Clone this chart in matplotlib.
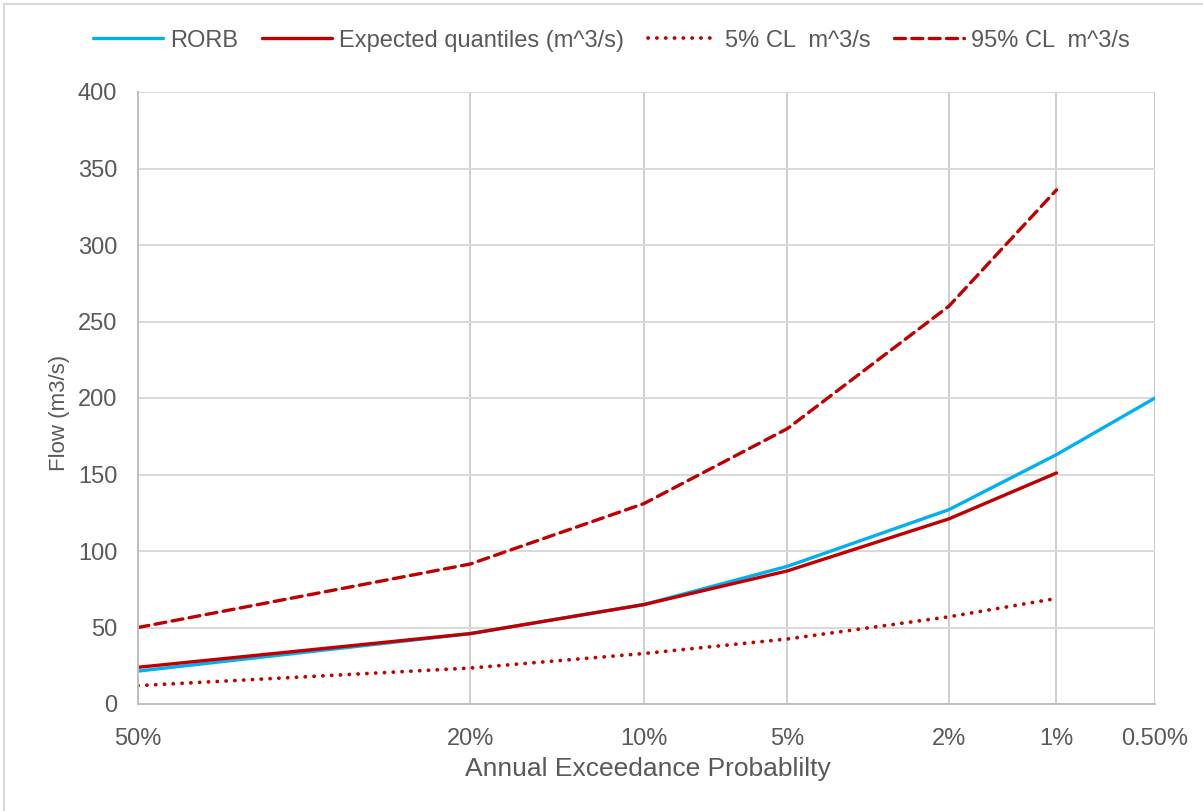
import matplotlib
matplotlib.use("Agg")
import matplotlib.pyplot as plt
from matplotlib.lines import Line2D
from statistics import NormalDist

plt.rcParams['font.family'] = ['Liberation Sans', 'DejaVu Sans']

aep_labels = ["50%", "20%", "10%", "5%", "2%", "1%", "0.50%"]
aep = [0.50, 0.20, 0.10, 0.05, 0.02, 0.01, 0.005]

rorb = [21.5, 46, 65, 90, 127, 163, 200]
expected = [24, 46, 65, 87, 121, 151]
cl5 = [12, 23.5, 33, 42.5, 57, 69]
cl95 = [50, 91.5, 131, 180, 260, 336]

nd = NormalDist()
x = [nd.inv_cdf(1 - p) for p in aep]

text_col = '#595959'
W, H = 1203, 811
fig = plt.figure(figsize=(W / 100, H / 100), dpi=100)

# chart-area border (top and left visible)
fig.add_artist(Line2D([4 / W, 1], [1 - 4 / H, 1 - 4 / H], color='#D9D9D9', lw=1.5))
fig.add_artist(Line2D([4 / W, 4 / W], [0, 1 - 4 / H], color='#D9D9D9', lw=1.5))

ax = fig.add_axes([138 / W, 1 - 704 / H, 1017 / W, 612 / H])

lw = 2.4
ax.plot(x, rorb, color='#00B0F0', lw=lw, label='RORB', solid_capstyle='round')
ax.plot(x[:6], expected, color='#C00000', lw=lw, label='Expected quantiles (m^3/s)', solid_capstyle='round')
ax.plot(x[:6], cl5, color='#C00000', lw=2.7, ls=(0, (0.05, 2.3)), dash_capstyle='round', label='5% CL  m^3/s')
ax.plot(x[:6], cl95, color='#C00000', lw=lw, ls=(0, (3.3, 1.9)), dash_capstyle='round', label='95% CL  m^3/s')

ax.set_xlim(x[0], x[-1])
ax.set_ylim(0, 400)
ax.set_yticks(range(0, 401, 50))
ax.set_xticks(x)
ax.set_xticklabels(aep_labels)
ax.tick_params(axis='both', length=0, labelsize=17, colors=text_col)
ax.tick_params(axis='x', pad=17)
ax.tick_params(axis='y', pad=15)

ax.grid(True, axis='y', color='#D9D9D9', lw=1.4)
ax.grid(True, axis='x', color='#C6C6C6', lw=1.2)
ax.axvline(x[-1], color='#C6C6C6', lw=1.2, zorder=0.5)
ax.set_axisbelow(True)
for s in ['top', 'right']:
    ax.spines[s].set_visible(False)
for s in ['left', 'bottom']:
    ax.spines[s].set_color('#BFBFBF')
    ax.spines[s].set_linewidth(1.4)

ax.set_xlabel('Annual Exceedance Probablilty', fontsize=19, color=text_col)
ax.xaxis.set_label_coords(0.5015, (704 - 769) / 612)
ax.xaxis.label.set_va('center')
ax.set_ylabel('Flow (m3/s)', fontsize=16, color=text_col)
ax.yaxis.set_label_coords((60 - 138) / 1017, 0.475)
ax.yaxis.label.set_va('center')

leg = fig.legend(loc='center', bbox_to_anchor=(611.5 / W, 1 - 40.7 / H), ncol=4, frameon=False,
                 fontsize=17, handlelength=2.97, handletextpad=0.3, columnspacing=1.0)
for t in leg.get_texts():
    t.set_color(text_col)

fig.savefig('out.png', dpi=100)
